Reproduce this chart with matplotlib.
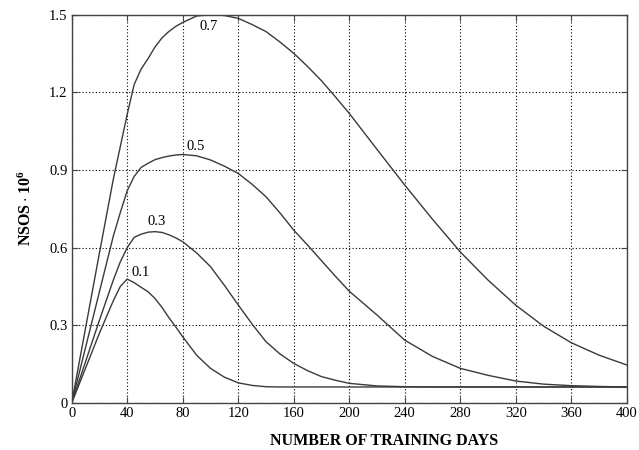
import matplotlib
matplotlib.use("Agg")
import matplotlib.pyplot as plt

plt.rcParams['font.family'] = ['Liberation Serif', 'DejaVu Serif']
plt.rcParams['mathtext.fontset'] = 'custom'
plt.rcParams['mathtext.rm'] = 'Liberation Serif'
plt.rcParams['mathtext.bf'] = 'Liberation Serif:bold'

days = [0, 10, 20, 30, 35, 40, 45, 50, 55, 60, 65, 70, 75, 80, 90, 100, 110, 120,
        130, 140, 150, 160, 170, 180, 190, 200, 220, 240, 260, 280, 300, 320,
        340, 360, 380, 400]

nsos_07 = [0, 0.29, 0.58, 0.865, 0.99, 1.115, 1.23, 1.29, 1.33, 1.375, 1.41,
           1.435, 1.455, 1.47, 1.495, 1.50, 1.497, 1.486, 1.462, 1.435, 1.395,
           1.351, 1.30, 1.245, 1.183, 1.119, 0.98, 0.842, 0.71, 0.584, 0.475,
           0.378, 0.297, 0.233, 0.185, 0.147]
nsos_05 = [0, 0.215, 0.43, 0.645, 0.735, 0.82, 0.875, 0.91, 0.926, 0.94, 0.948,
           0.954, 0.958, 0.96, 0.955, 0.939, 0.915, 0.887, 0.845, 0.797, 0.735,
           0.668, 0.61, 0.55, 0.49, 0.432, 0.34, 0.243, 0.18, 0.134, 0.107,
           0.085, 0.073, 0.067, 0.064, 0.062]
nsos_03 = [0, 0.16, 0.32, 0.475, 0.545, 0.60, 0.64, 0.652, 0.66, 0.662, 0.659,
           0.65, 0.638, 0.623, 0.58, 0.527, 0.455, 0.379, 0.305, 0.237, 0.19,
           0.153, 0.125, 0.102, 0.088, 0.076, 0.066, 0.063, 0.062, 0.062, 0.062,
           0.062, 0.062, 0.062, 0.062, 0.062]
nsos_01 = [0, 0.135, 0.27, 0.395, 0.45, 0.479, 0.465, 0.447, 0.43, 0.404, 0.37,
           0.33, 0.294, 0.256, 0.185, 0.134, 0.10, 0.078, 0.068, 0.063, 0.062,
           0.062, 0.062, 0.062, 0.062, 0.062, 0.062, 0.062, 0.062, 0.062, 0.062,
           0.062, 0.062, 0.062, 0.062, 0.062]

series = [nsos_07, nsos_05, nsos_03, nsos_01]
labels = ['0.7', '0.5', '0.3', '0.1']
label_pos = [(99, 1.456), (89, 0.99), (61, 0.70), (50, 0.505)]

xticks = list(range(0, 401, 40))
yticks = [0, 0.3, 0.6, 0.9, 1.2, 1.5]
yticklabels = ['0', '0.3', '0.6', '0.9', '1.2', '1.5']

fig = plt.figure(figsize=(6.39, 4.5), dpi=100)
ax = fig.add_axes([0.1122, 0.1044, 0.8686, 0.8629])

for ys in series:
    ax.plot(days, ys, color='#3a3a3a', lw=1.0)
for lab, (lx, ly) in zip(labels, label_pos):
    ax.text(lx, ly, lab, fontsize=10.5, ha='center', va='center', color='black')

ax.set_xlim(0, 400)
ax.set_ylim(0, 1.5)
ax.set_xticks(xticks)
ax.set_yticks(yticks)
ax.set_yticklabels(yticklabels)
ax.grid(True, color='black', linestyle=(0, (1, 2)), lw=0.8)
ax.tick_params(direction='in', length=4, top=True, right=True, labelsize=10.5,
               color='#444444', pad=3)
for s in ax.spines.values():
    s.set_color('#444444')
    s.set_linewidth(1.0)

fig.text(0.042, 1 - 208 / 450, r'$\mathbf{NSOS\cdot 10^{6}}$', rotation=90,
         ha='center', va='center', fontsize=11.5)
fig.text(384 / 639, 1 - 441 / 450, 'NUMBER OF TRAINING DAYS', ha='center',
         va='center', fontsize=11.5, fontweight='bold')

fig.savefig('out.png', dpi=100)
